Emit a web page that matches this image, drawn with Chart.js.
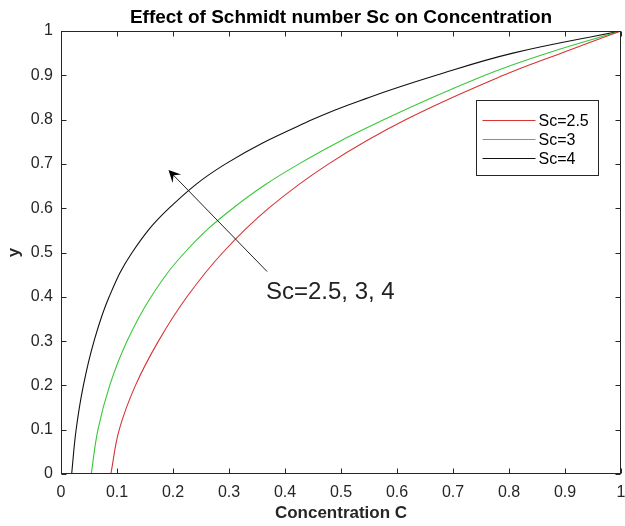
<!DOCTYPE html>
<html>
<head>
<meta charset="utf-8">
<script src="https://cdn.jsdelivr.net/npm/chart.js@4.4.0/dist/chart.umd.min.js"></script>
<style>
  html, body { margin: 0; padding: 0; background: #fff; }
  #wrap { width: 625px; height: 526px; }
</style>
</head>
<body>
<div id="wrap"><canvas id="scChart" width="625" height="526"></canvas></div>
<script>
const seriesLabels = ['Sc=2.5', 'Sc=3', 'Sc=4'];
const seriesColors = ['#d63434', '#38c838', '#111111'];

// Sc = 2.5 (red)
const xSc25 = [0.089, 0.104, 0.133, 0.174, 0.225, 0.289, 0.371, 0.478, 0.616, 0.79, 0.893, 1];
const ySc25 = [0, 0.1, 0.2, 0.3, 0.4, 0.5, 0.6, 0.7, 0.8, 0.9, 0.95, 1];
// Sc = 3 (green)
const xSc3 = [0.054, 0.066, 0.087, 0.118, 0.161, 0.221, 0.307, 0.425, 0.577, 0.757, 0.868, 1];
const ySc3 = [0, 0.1, 0.2, 0.3, 0.4, 0.5, 0.6, 0.7, 0.8, 0.9, 0.95, 1];
// Sc = 4 (black)
const xSc4 = [0.019, 0.027, 0.04, 0.059, 0.086, 0.127, 0.193, 0.294, 0.449, 0.55, 0.67, 0.807, 1];
const ySc4 = [0, 0.1, 0.2, 0.3, 0.4, 0.5, 0.6, 0.7, 0.8, 0.85, 0.9, 0.95, 1];

const titleText = 'Effect of Schmidt number Sc on Concentration';
const xTitle = 'Concentration C';
const yTitle = 'y';
const noteText = 'Sc=2.5, 3, 4';
// arrow in data units: tail -> tip
const arrowTail = [0.368, 0.457];
const arrowTip = [0.192, 0.686];
const notePos = [0.366, 0.396];

const font = '"Liberation Sans", Arial, Helvetica, sans-serif';
const pts = (xs, ys) => xs.map((x, i) => ({ x: x, y: ys[i] }));
const fmt = v => String(Math.round(v * 10) / 10);

const matlabBits = {
  id: 'matlabBits',
  afterDatasetsDraw(chart) {
    const { ctx, chartArea: a, scales: { x, y } } = chart;
    ctx.save();

    // box + inward ticks
    ctx.strokeStyle = '#262626';
    ctx.lineWidth = 1;
    const L = Math.round(a.left) + 0.5, R = Math.round(a.right) - 0.5;
    const T = Math.round(a.top) + 0.5, B = Math.round(a.bottom) - 0.5;
    ctx.strokeRect(L, T, R - L, B - T);
    ctx.beginPath();
    x.ticks.forEach(t => {
      const px = Math.round(x.getPixelForValue(t.value)) + 0.5;
      ctx.moveTo(px, B); ctx.lineTo(px, B - 5);
      ctx.moveTo(px, T); ctx.lineTo(px, T + 5);
    });
    y.ticks.forEach(t => {
      const py = Math.round(y.getPixelForValue(t.value)) + 0.5;
      ctx.moveTo(L, py); ctx.lineTo(L + 5, py);
      ctx.moveTo(R, py); ctx.lineTo(R - 5, py);
    });
    ctx.stroke();

    // title
    ctx.fillStyle = '#000';
    ctx.font = 'bold 19px ' + font;
    ctx.textAlign = 'center';
    ctx.textBaseline = 'middle';
    ctx.fillText(titleText, (a.left + a.right) / 2, 18);

    // arrow
    const tx = x.getPixelForValue(arrowTail[0]), ty = y.getPixelForValue(arrowTail[1]);
    const hx = x.getPixelForValue(arrowTip[0]), hy = y.getPixelForValue(arrowTip[1]);
    const ang = Math.atan2(hy - ty, hx - tx);
    const len = 12, half = 6;
    ctx.strokeStyle = '#222';
    ctx.beginPath();
    ctx.moveTo(tx, ty);
    ctx.lineTo(hx - Math.cos(ang) * 6, hy - Math.sin(ang) * 6);
    ctx.stroke();
    const bx = hx - Math.cos(ang) * len, by = hy - Math.sin(ang) * len;
    const nx = -Math.sin(ang), ny = Math.cos(ang);
    const cx = hx - Math.cos(ang) * len * 0.6, cy = hy - Math.sin(ang) * len * 0.6;
    ctx.fillStyle = '#000';
    ctx.beginPath();
    ctx.moveTo(hx, hy);
    ctx.lineTo(bx + nx * half, by + ny * half);
    ctx.lineTo(cx, cy);
    ctx.lineTo(bx - nx * half, by - ny * half);
    ctx.closePath();
    ctx.fill();

    // annotation text
    ctx.fillStyle = '#222';
    ctx.font = '24px ' + font;
    ctx.textAlign = 'left';
    ctx.textBaseline = 'alphabetic';
    ctx.fillText(noteText, x.getPixelForValue(notePos[0]), y.getPixelForValue(notePos[1]));

    // legend box
    const lw = 122, lh = 75;
    const lx = Math.round(a.right - 23 - lw) + 0.5, ly = Math.round(a.top + 69) + 0.5;
    ctx.fillStyle = '#fff';
    ctx.fillRect(lx, ly, lw, lh);
    ctx.strokeStyle = '#262626';
    ctx.strokeRect(lx, ly, lw, lh);
    ctx.font = '16px ' + font;
    ctx.textBaseline = 'middle';
    seriesLabels.forEach((lab, i) => {
      const ry = Math.round(ly + 19 + i * 19) + 0.5;
      ctx.strokeStyle = seriesColors[i];
      ctx.beginPath();
      ctx.moveTo(lx + 6, ry); ctx.lineTo(lx + 59, ry);
      ctx.stroke();
      ctx.fillStyle = '#000';
      ctx.fillText(lab, lx + 62, ry + 1);
    });
    ctx.restore();
  }
};

const mkData = [
  pts(xSc25, ySc25),
  pts(xSc3, ySc3),
  pts(xSc4, ySc4)
];

const ctx = document.getElementById('scChart').getContext('2d');
const scChart = new Chart(ctx, {
  type: 'line',
  data: {
    datasets: seriesLabels.map((lab, i) => ({
      label: lab,
      data: mkData[i],
      borderColor: seriesColors[i],
      borderWidth: 1.1,
      pointRadius: 0,
      fill: false,
      tension: 0.4
    }))
  },
  options: {
    responsive: false,
    animation: false,
    devicePixelRatio: 1,
    layout: { padding: { top: 31, right: 4, left: 0, bottom: 0 } },
    plugins: {
      legend: { display: false },
      tooltip: { enabled: false },
      title: { display: false }
    },
    scales: {
      x: {
        type: 'linear',
        min: 0, max: 1,
        grid: { display: false, drawTicks: false },
        border: { display: false },
        ticks: {
          stepSize: 0.1,
          padding: 9,
          color: '#262626',
          font: { family: font, size: 16 },
          maxRotation: 0,
          callback: v => fmt(v)
        },
        title: {
          display: true,
          text: xTitle,
          color: '#262626',
          font: { family: font, size: 17, weight: 'bold' },
          padding: { top: 0, bottom: 2 }
        },
        afterFit(s) { s.height = 52; s.paddingLeft = 0; s.paddingRight = 0; }
      },
      y: {
        min: 0, max: 1,
        grid: { display: false, drawTicks: false },
        border: { display: false },
        ticks: {
          stepSize: 0.1,
          padding: 8,
          color: '#262626',
          font: { family: font, size: 16 },
          callback: v => fmt(v)
        },
        title: {
          display: true,
          text: yTitle,
          color: '#262626',
          font: { family: font, size: 17, weight: 'bold' },
          padding: { top: 4, bottom: 0 }
        },
        afterFit(s) { s.width = 61; s.paddingTop = 0; s.paddingBottom = 0; }
      }
    }
  },
  plugins: [matlabBits]
});
</script>
</body>
</html>
